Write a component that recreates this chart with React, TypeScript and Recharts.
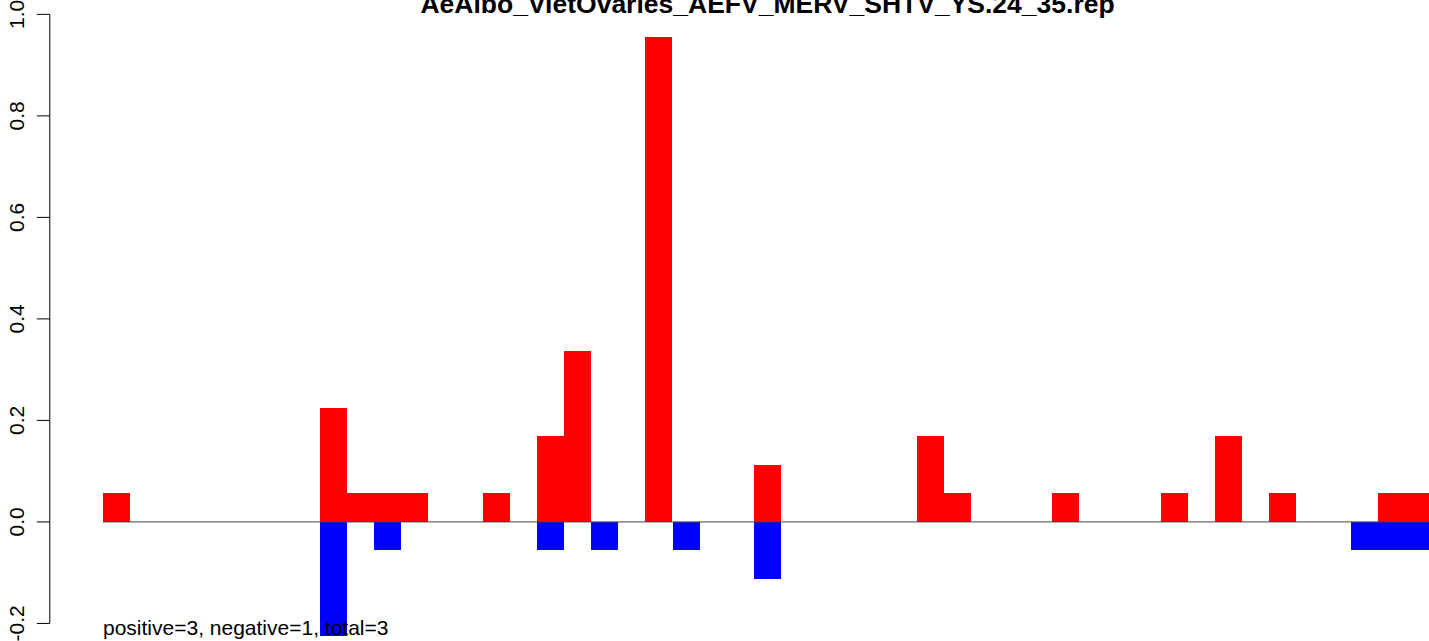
import { BarChart, Bar, XAxis, YAxis, ReferenceLine } from 'recharts';

const title = 'AeAlbo_VietOvaries_AEFV_MERV_SHTV_YS.24_35.rep';
const footnote = 'positive=3, negative=1, total=3';

// one value per bin
const positive = [
  0.056, 0, 0, 0, 0, 0, 0, 0, 0.225, 0.056,
  0.056, 0.056, 0, 0, 0.056, 0, 0.169, 0.337, 0, 0,
  0.955, 0, 0, 0, 0.112, 0, 0, 0, 0, 0,
  0.169, 0.056, 0, 0, 0, 0.056, 0, 0, 0, 0.056,
  0, 0.169, 0, 0.056, 0, 0, 0, 0.056, 0.056,
];
const negative = [
  0, 0, 0, 0, 0, 0, 0, 0, -0.225, 0,
  -0.056, 0, 0, 0, 0, 0, -0.056, 0, -0.056, 0,
  0, -0.056, 0, 0, -0.112, 0, 0, 0, 0, 0,
  0, 0, 0, 0, 0, 0, 0, 0, 0, 0,
  0, 0, 0, 0, 0, 0, -0.056, -0.056, -0.056,
];
const yTicks = [-0.2, 0, 0.2, 0.4, 0.6, 0.8, 1.0];
const yTickLabels = ['-0.2', '0.0', '0.2', '0.4', '0.6', '0.8', '1.0'];

const N = positive.length;
const data = positive.map((p, i) => ({ x: i + 0.5, pos: p, neg: negative[i] }));

// R style 4% padding around the ranges
const X_DOMAIN: [number, number] = [-0.04 * N, N * 1.04];
const Y_DOMAIN: [number, number] = [-0.2 - 0.048, 1.0 + 0.048];

const FONT = '"Liberation Sans", Arial, Helvetica, sans-serif';
const PLOT_LEFT = 49.8;
const PLOT_W = 1435.5;
const PLOT_TOP = -10.4;
const PLOT_H = 657.8;
const MARGIN_TOP = 20;
const MARGIN_BOTTOM = 10;
const CHART_W = 1500;
const CHART_H = MARGIN_TOP + PLOT_H + MARGIN_BOTTOM;
const LABEL_X = 24;

function YTick(props: any) {
  const { y, payload } = props;
  const idx = yTicks.indexOf(payload.value);
  return (
    <g>
      <line x1={PLOT_LEFT - 13} x2={PLOT_LEFT} y1={y} y2={y} stroke="#000" strokeWidth={1} />
      <text
        x={0}
        y={0}
        transform={`translate(${LABEL_X}, ${y}) rotate(-90)`}
        textAnchor="middle"
        fontSize={21}
        fontFamily={FONT}
        fill="#000"
      >
        {idx >= 0 ? yTickLabels[idx] : payload.value}
      </text>
    </g>
  );
}

export default function App() {
  return (
    <div style={{ position: 'absolute', left: 0, top: 0, width: 1429, height: 641, overflow: 'hidden', background: '#fff' }}>
      <div style={{ position: 'absolute', left: 0, top: PLOT_TOP - MARGIN_TOP }}>
        <BarChart
          width={CHART_W}
          height={CHART_H}
          data={data}
          stackOffset="sign"
          barCategoryGap={0}
          barGap={0}
          margin={{ top: MARGIN_TOP, right: CHART_W - PLOT_LEFT - PLOT_W, bottom: MARGIN_BOTTOM, left: 0 }}
        >
          <XAxis type="number" dataKey="x" domain={X_DOMAIN} allowDataOverflow hide />
          <YAxis
            type="number"
            domain={Y_DOMAIN}
            allowDataOverflow
            ticks={yTicks}
            interval={0}
            width={PLOT_LEFT}
            axisLine={false}
            tickLine={false}
            tick={YTick}
          />
          <ReferenceLine
            segment={[{ x: 0, y: 0 }, { x: N, y: 0 }]}
            stroke="#444"
            strokeWidth={1}
            ifOverflow="visible"
          />
          <Bar dataKey="pos" stackId="s" fill="#FF0000" shapeRendering="crispEdges" isAnimationActive={false} />
          <Bar dataKey="neg" stackId="s" fill="#0000FF" shapeRendering="crispEdges" isAnimationActive={false} />
          <ReferenceLine
            segment={[{ x: X_DOMAIN[0], y: -0.2 }, { x: X_DOMAIN[0], y: 1.0 }]}
            stroke="#000"
            strokeWidth={1}
            ifOverflow="visible"
          />
        </BarChart>
      </div>
      <div
        style={{
          position: 'absolute',
          left: PLOT_LEFT,
          width: PLOT_W,
          top: -9,
          textAlign: 'center',
          fontFamily: FONT,
          fontWeight: 'bold',
          fontSize: 26.5,
          lineHeight: '26px',
          whiteSpace: 'nowrap',
          color: '#000',
        }}
      >
        {title}
      </div>
      <div
        style={{
          position: 'absolute',
          left: 103,
          top: 617,
          fontFamily: FONT,
          fontSize: 21,
          lineHeight: '21px',
          whiteSpace: 'nowrap',
          color: '#000',
        }}
      >
        {footnote}
      </div>
    </div>
  );
}
